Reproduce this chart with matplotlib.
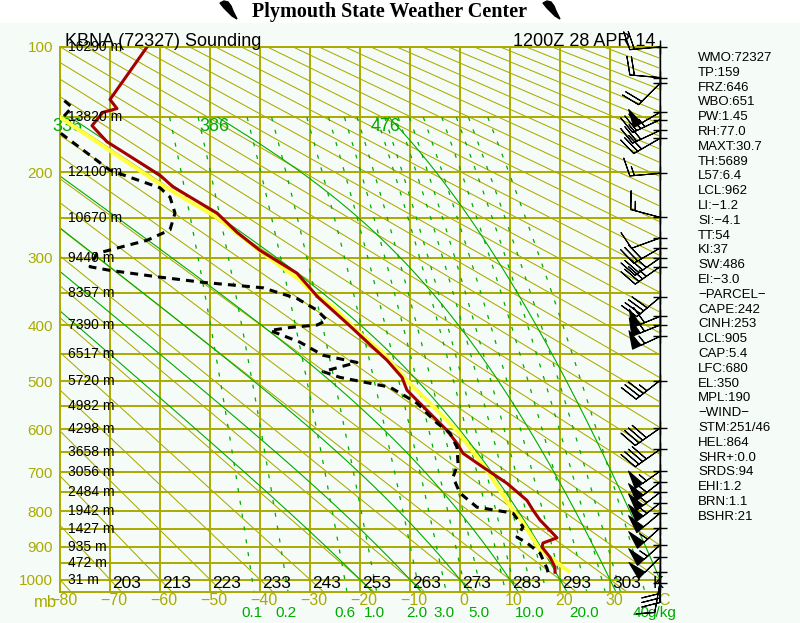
import numpy as np
import matplotlib
matplotlib.use('Agg')
import matplotlib.pyplot as plt
import matplotlib.transforms as mtransforms
from matplotlib.patches import Rectangle, Polygon
from matplotlib.ticker import NullLocator

plt.rcParams['font.family'] = ['Liberation Sans', 'DejaVu Sans']

# ---------------- data ----------------
# temperature profile (mb, degC)
temp_p = [977, 962, 931, 901, 889, 874, 844, 824, 797, 771, 727, 687, 654, 631, 602, 559, 518, 493,
          461, 438, 397, 356, 321, 290, 267, 244, 215, 203, 171, 157, 146, 143, 136, 100]
temp_t = [19.0, 19.0, 18.0, 16.4, 16.6, 19.4, 17.4, 16.0, 14.6, 13.4, 9.4, 4.6, 0.6, -0.6, -2.6, -6.6, -10.6, -11.6,
          -14.6, -17.4, -22.6, -28.4, -32.6, -40.0, -44.6, -48.6, -57.4, -60.0, -70.6, -73.6, -71.4, -68.6, -70.0, -62.6]

# dewpoint profile (mb, degC)
dew_p = [977, 965, 919, 889, 872, 843, 805, 789, 752, 712, 678, 640, 608, 586, 544, 512, 493, 482,
         465, 452, 429, 409, 404, 400, 392, 376, 358, 342, 334, 326, 317, 312, 294, 287, 277, 264,
         244, 226, 216, 198, 163, 156, 150, 142, 134, 128]
dew_t = [17.6, 17.4, 16.0, 13.4, 11.4, 12.6, 10.6, 3.4, 0.0, -1.4, -0.4, -0.6, -2.0, -4.6, -8.6, -14.0, -24.0, -27.4,
         -20.6, -27.4, -32.0, -38.0, -34.0, -28.6, -26.6, -28.6, -32.6, -39.4, -51.4, -60.6, -70.0, -74.0, -72.6, -68.6, -62.6, -58.0,
         -57.0, -58.0, -60.0, -70.0, -80.0, -84.0, -79.4, -77.6, -80.0, -84.0]

# parcel path (mb, degC)
parcel_p = [977, 909, 832, 797, 695, 602, 544, 499, 448, 414, 371, 349, 331, 294, 249, 212, 150, 140]
parcel_t = [22.0, 16.0, 12.6, 10.6, 5.4, -0.6, -6.0, -10.6, -15.4, -20.0, -25.4, -29.4, -32.0, -39.4, -48.6, -60.0, -80.0, -83.0]

# winds (mb, direction deg, speed kt)
wind_p = [100, 120, 124, 146, 152, 161, 168, 201, 249, 274, 287, 300, 312, 356, 386, 400, 419, 499,
          597, 645, 697, 724, 750, 778, 805, 846, 895, 931, 977, 1010]
wind_dir = [265, 275, 225, 240, 245, 245, 240, 265, 285, 250, 240, 235, 235, 230, 248, 248, 245, 232,
            235, 235, 235, 232, 232, 232, 230, 228, 228, 225, 180, 190]
wind_spd = [20, 20, 20, 50, 35, 30, 30, 15, 15, 10, 30, 35, 35, 40, 60, 60, 55, 35,
            40, 40, 55, 55, 55, 55, 50, 55, 55, 50, 30, 10]

# axis labels
press_ticks = [100, 200, 300, 400, 500, 600, 700, 800, 900, 1000]
press_labels = ['100', '200', '300', '400', '500', '600', '700', '800', '900', '1000']
temp_ticks = [-80, -70, -60, -50, -40, -30, -20, -10, 0, 10, 20, 30, 40]
temp_labels = ['\u221280', '\u221270', '\u221260', '\u221250', '\u221240', '\u221230', '\u221220',
               '\u221210', '0', '10', '20', '30', 'C']
theta_labels = [203, 213, 223, 233, 243, 253, 263, 273, 283, 293, 303]
height_p = [100, 150, 200, 250, 300, 350, 400, 450, 500, 550, 600, 650, 700, 750, 800, 850, 900, 950, 1000]
height_labels = ['16290 m', '13820 m', '12100 m', '10670 m', '9440 m', '8357 m', '7390 m', '6517 m',
                 '5720 m', '4982 m', '4298 m', '3658 m', '3056 m', '2484 m', '1942 m', '1427 m',
                 '935 m', '472 m', '31 m']
mixr_lines = [0.1, 0.2, 0.6, 1.0, 2.0, 3.0, 4.0, 5.0, 7.0, 8.0, 10.0, 12.0, 15.0, 20.0, 25.0, 30.0, 40.0]
mixr_labeled = [0.1, 0.2, 0.6, 1.0, 2.0, 3.0, 5.0, 10.0, 20.0, 40.0]
mixr_label_text = ['0.1', '0.2', '0.6', '1.0', '2.0', '3.0', '5.0', '10.0', '20.0', '40']
moist_tw = [-20, -10, 0, 10, 20, 30, 40]
moist_labels = {20: '336', 30: '386', 40: '476'}
dry_thetas = list(range(193, 604, 10))
iso_bars = list(range(100, 1001, 50))

indices = ['WMO:72327', 'TP:159', 'FRZ:646', 'WBO:651', 'PW:1.45', 'RH:77.0', 'MAXT:30.7', 'TH:5689',
           'L57:6.4', 'LCL:962', 'LI:\u22121.2', 'SI:\u22124.1', 'TT:54', 'KI:37', 'SW:486', 'EI:\u22123.0',
           '\u2212PARCEL\u2212', 'CAPE:242', 'CINH:253', 'LCL:905', 'CAP:5.4', 'LFC:680', 'EL:350', 'MPL:190',
           '\u2212WIND\u2212', 'STM:251/46', 'HEL:864', 'SHR+:0.0', 'SRDS:94', 'EHI:1.2', 'BRN:1.1', 'BSHR:21']

# ---------------- styles ----------------
OLIVE = '#aaaa00'
GREEN = '#00aa00'
RED = '#a50000'
YELLOW = '#ffff40'
BG = '#f5fcf8'
KAPPA = 0.286

W, H = 800, 623
def fx(px):
    return px / W
def fy(py):
    return 1 - py / H

fig = plt.figure(figsize=(8, 6.23), dpi=100, facecolor=BG)
fig.add_artist(Rectangle((0, fy(23)), 1, 1 - fy(23), transform=fig.transFigure,
                         facecolor='white', edgecolor='none', zorder=0))

ax = fig.add_axes([fx(60), fy(592), fx(660) - fx(60), fy(47) - fy(592)])
ax.set_facecolor(BG)
ax.set_yscale('function', functions=(lambda p: np.abs(p) ** KAPPA,
                                     lambda z: np.abs(z) ** (1.0 / KAPPA)))
ax.set_xlim(-80, 40)
ax.set_ylim(1040, 100)
for s in ax.spines.values():
    s.set_color(OLIVE)
    s.set_linewidth(1.4)

ax.set_yticks(press_ticks)
ax.set_yticklabels(press_labels)
ax.yaxis.set_minor_locator(NullLocator())
ax.tick_params(axis='y', length=0, pad=5, colors=OLIVE, labelsize=11)
ax.set_xticks(temp_ticks)
ax.set_xticklabels(temp_labels)
ax.xaxis.set_minor_locator(NullLocator())
ax.tick_params(axis='x', length=0, pad=1.0, colors=OLIVE, labelsize=11.5)
for lab in ax.get_xticklabels():
    lab.set_transform(lab.get_transform() + mtransforms.ScaledTranslation(4 / 100, 0, fig.dpi_scale_trans))

# grid: isobars and isotherms
for p in iso_bars:
    ax.axhline(p, color=OLIVE, lw=1.4, zorder=1)
for t in temp_ticks:
    ax.axvline(t, color=OLIVE, lw=1.4, zorder=1)

# dry adiabats
pp = np.geomspace(100, 1040, 120)
for th in dry_thetas:
    ax.plot(th * (pp / 1000.0) ** KAPPA - 273.0, pp, color=OLIVE, lw=0.75, zorder=1.2)

# moist adiabats
Rd, Cp, Lv, EPS = 287.04, 1005.7, 2.501e6, 0.622
def sat_mixr(T, p):
    es = 6.112 * np.exp(17.67 * (T - 273.15) / (T - 29.65))
    return EPS * es / (p - es)
def dTdp(T, p):
    rs = sat_mixr(T, p)
    return (Rd * T + Lv * rs) / (p * (Cp + Lv * Lv * rs * EPS / (Rd * T * T)))
def integrate(t0c, plev):
    T = t0c + 273.15
    out = [T]
    for i in range(1, len(plev)):
        p0, p1 = plev[i - 1], plev[i]
        h = p1 - p0
        k1 = dTdp(T, p0)
        k2 = dTdp(T + 0.5 * h * k1, p0 + 0.5 * h)
        k3 = dTdp(T + 0.5 * h * k2, p0 + 0.5 * h)
        k4 = dTdp(T + h * k3, p1)
        T = T + h * (k1 + 2 * k2 + 2 * k3 + k4) / 6.0
        out.append(T)
    return np.array(out)

lab_tr = mtransforms.offset_copy(ax.transData, fig=fig, x=0, y=-1, units='dots')
for tw in moist_tw:
    pu = np.linspace(1000, 150, 170)
    pdn = np.linspace(1000, 1040, 9)
    tu = integrate(tw, pu) - 273.15
    td = integrate(tw, pdn) - 273.15
    pl = np.concatenate([pdn[::-1], pu[1:]])
    tl = np.concatenate([td[::-1], tu[1:]])
    ax.plot(tl, pl, color=GREEN, lw=0.8, zorder=1.5)
    if tw in moist_labels:
        ax.text(tu[-1] - 0.6, 150, moist_labels[tw], color=GREEN, fontsize=13,
                ha='center', va='top', transform=lab_tr, zorder=3, clip_on=False)

# mixing ratio lines
def td_from_w(w, p):
    e = w * p / (622.0 + w)
    lg = np.log(e / 6.112)
    return 243.5 * lg / (17.67 - lg)
pm = np.geomspace(150, 1040, 80)
for w in mixr_lines:
    ax.plot(td_from_w(w, pm), pm, color=GREEN, lw=0.9, ls=(0, (3.2, 7.2)), zorder=1.5)

# sounding
ax.plot(parcel_t, parcel_p, color=YELLOW, lw=2.9, zorder=4, solid_capstyle='butt')
ax.plot(temp_t, temp_p, color=RED, lw=2.2, zorder=5)
ax.plot(dew_t, dew_p, color='black', lw=2.2, ls=(0, (2.6, 2.0)), zorder=6)

# height labels
bl = mtransforms.blended_transform_factory(ax.transAxes, ax.transData)
for p, s in zip(height_p, height_labels):
    ax.text(0.013, p, s, transform=bl, fontsize=10, ha='left', va='center', color='black', zorder=7)

# theta labels along the bottom
bx = mtransforms.blended_transform_factory(ax.transData, ax.transAxes)
bx_off = mtransforms.offset_copy(bx, fig=fig, x=2, y=1, units='dots')
for th in theta_labels:
    ax.text(th - 273, 0.0, str(th), transform=bx_off, fontsize=12.5, ha='left', va='bottom',
            color='black', zorder=7)
ax.text(40, 0.0, 'K', transform=mtransforms.offset_copy(bx, fig=fig, x=-7, y=1, units='dots'),
        fontsize=12, ha='left', va='bottom', color='black', zorder=7)

# mixing ratio labels
for w, s in zip(mixr_labeled, mixr_label_text):
    ax.text(td_from_w(w, 1000.0), -0.0385, s, transform=bx, fontsize=11, ha='center',
            va='center', color=GREEN)
ax.text(td_from_w(40.0, 1000.0) + 1.2, -0.0385, 'g/kg', transform=bx, fontsize=11, ha='left',
        va='center', color=GREEN)
fig.text(fx(34), fy(607), 'mb', fontsize=12, color=OLIVE, ha='left', va='baseline')

# winds
wd = np.radians(wind_dir)
u = -np.array(wind_spd) * np.sin(wd)
v = -np.array(wind_spd) * np.cos(wd)
xb = np.full(len(wind_p), 40.0)
ax.barbs(xb, wind_p, u, v, length=6.6, color='black', linewidth=0.8, clip_on=False, zorder=8,
         sizes=dict(height=0.6, spacing=0.15, width=0.3, emptybarb=0.0))
ax.plot(xb, wind_p, ls='none', marker='+', ms=10, mew=1.0, color='black', clip_on=False, zorder=8)
ax.plot([40, 40], [0.0, 1.004], transform=bx, color='black', lw=1.0, clip_on=False, zorder=8)

# headers
fig.text(fx(65), fy(46), 'KBNA (72327) Sounding', fontsize=13, ha='left', va='baseline')
fig.text(fx(655), fy(46), '1200Z 28 APR 14', fontsize=13, ha='right', va='baseline')
fig.text(fx(389), fy(17), 'Plymouth State Weather Center', fontsize=14.5, fontweight='bold',
         family=['Liberation Serif', 'DejaVu Serif'], ha='center', va='baseline')

logo = [(0, 2), (4, 0), (8, 1), (11, 5), (13, 10), (17, 18), (12, 15), (8, 11), (4, 7)]
for x0 in (220, 543):
    pts = [(fx(x0 + a), fy(1 + b)) for a, b in logo]
    fig.add_artist(Polygon(pts, closed=True, transform=fig.transFigure, facecolor='black',
                           edgecolor='black'))

# index panel
for i, s in enumerate(indices):
    fig.text(fx(698), fy(61 + i * 14.8), s, fontsize=9.5, ha='left', va='baseline', color='black')

fig.savefig('out.png', dpi=100, facecolor=BG)
